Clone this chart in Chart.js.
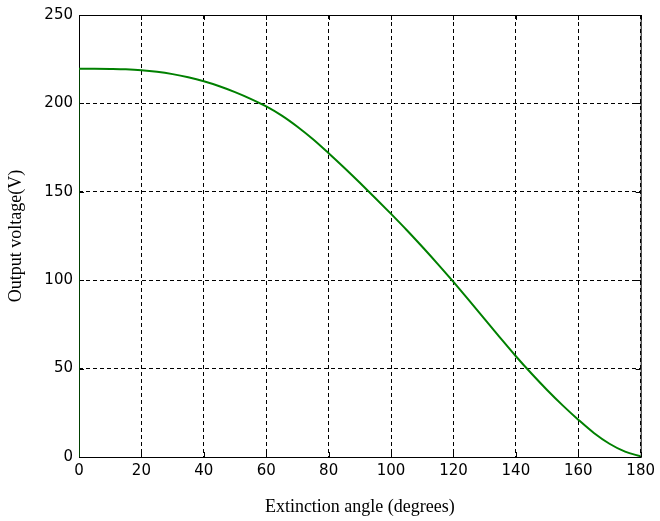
<!DOCTYPE html>
<html>
<head>
<meta charset="utf-8">
<script src="https://cdn.jsdelivr.net/npm/chart.js@4.4.1/dist/chart.umd.min.js"></script>
<style>
  html, body { margin: 0; padding: 0; background: #fff; }
  #wrap { width: 660px; height: 521px; }
</style>
</head>
<body>
<div id="wrap"><canvas id="voltChart" width="660" height="521"></canvas></div>
<script>
// extinction angle (deg) and output voltage (V)
const angleDeg = [0, 5, 10, 15, 20, 25, 30, 35, 40, 45, 50, 55, 60, 65, 70, 75, 80, 85, 90,
  95, 100, 105, 110, 115, 120, 125, 130, 135, 140, 145, 150, 155, 160, 165, 170, 175, 180];
const outVolt = [219.6, 219.6, 219.5, 219.3, 218.8, 217.9, 216.55, 214.75, 212.5, 209.7, 206.4,
  202.6, 198.3, 193.1, 186.8, 179.7, 171.8, 163.6, 155.1, 146.4, 137.5, 128.4, 118.9, 109.1,
  99.0, 88.6, 78.0, 67.4, 57.0, 47.2, 37.9, 29.2, 21.1, 13.6, 7.5, 3.0, 0.4];
// vertical rise drawn at the start of the trace
const riseAngle = [0, 0];
const riseVolt = [0, 219.6];

const xTicks = [0, 20, 40, 60, 80, 100, 120, 140, 160, 180];
const yTicks = [0, 50, 100, 150, 200, 250];

const toPoints = (xs, ys) => xs.map((x, i) => ({ x: x, y: ys[i] }));

// plot frame and inward tick marks (drawn before the trace)
const framePlugin = {
  id: 'frame',
  beforeDatasetsDraw(chart) {
    const { ctx, chartArea: a, scales: { x, y } } = chart;
    ctx.save();
    ctx.strokeStyle = '#000';
    ctx.lineWidth = 1;
    ctx.setLineDash([]);
    ctx.strokeRect(a.left + 0.5, a.top + 0.5, a.right - a.left, a.bottom - a.top);
    ctx.beginPath();
    xTicks.forEach(v => {
      const px = Math.round(x.getPixelForValue(v)) + 0.5;
      ctx.moveTo(px, a.bottom); ctx.lineTo(px, a.bottom - 5);
      ctx.moveTo(px, a.top); ctx.lineTo(px, a.top + 5);
    });
    yTicks.forEach(v => {
      const py = Math.round(y.getPixelForValue(v)) + 0.5;
      ctx.moveTo(a.left, py); ctx.lineTo(a.left + 5, py);
      ctx.moveTo(a.right, py); ctx.lineTo(a.right - 5, py);
    });
    ctx.stroke();
    ctx.restore();
  }
};

const tickFont = { family: 'DejaVu Sans', size: 15 };
const titleFont = { family: 'Liberation Serif', size: 18 };

new Chart(document.getElementById('voltChart').getContext('2d'), {
  type: 'scatter',
  data: {
    datasets: [
      {
        label: 'Output voltage',
        data: toPoints(angleDeg, outVolt),
        showLine: true,
        borderColor: '#008000',
        borderWidth: 2,
        pointRadius: 0,
        cubicInterpolationMode: 'monotone',
        fill: false
      },
      {
        label: 'rise',
        data: toPoints(riseAngle, riseVolt),
        showLine: true,
        borderColor: '#008000',
        borderWidth: 1,
        pointRadius: 0,
        fill: false
      }
    ]
  },
  options: {
    responsive: false,
    animation: false,
    layout: { padding: { left: 0, top: 12, right: 14, bottom: 0 } },
    plugins: {
      legend: { display: false },
      tooltip: { enabled: false }
    },
    scales: {
      x: {
        type: 'linear',
        min: 0,
        max: 180,
        afterFit: s => { s.height = 64; },
        afterBuildTicks: s => { s.ticks = xTicks.map(v => ({ value: v })); },
        ticks: { font: tickFont, color: '#000', padding: 5, maxRotation: 0 },
        grid: { color: '#000', lineWidth: 1, drawTicks: false, borderDash: [4, 3] },
        border: { display: false, dash: [4, 3] },
        title: {
          display: true,
          text: 'Extinction angle (degrees)',
          font: titleFont,
          color: '#000',
          padding: { top: 0, bottom: 3 }
        }
      },
      y: {
        type: 'linear',
        min: 0,
        max: 250,
        afterFit: s => { s.width = 79; },
        afterBuildTicks: s => { s.ticks = yTicks.map(v => ({ value: v })); },
        ticks: { font: tickFont, color: '#000', padding: 6 },
        grid: { color: '#000', lineWidth: 1, drawTicks: false, borderDash: [4, 3] },
        border: { display: false, dash: [4, 3] },
        title: {
          display: true,
          text: 'Output voltage(V)',
          font: titleFont,
          color: '#000',
          padding: { top: 5, bottom: 0 }
        }
      }
    }
  },
  plugins: [framePlugin]
});
</script>
</body>
</html>
